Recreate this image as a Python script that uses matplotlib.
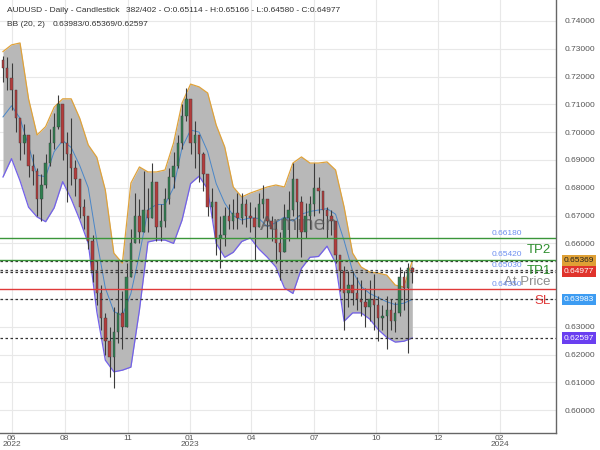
import numpy as np
import matplotlib
matplotlib.use('Agg')
import matplotlib.pyplot as plt

plt.rcParams['font.family'] = ['Liberation Sans', 'DejaVu Sans']

# candles, one every 4 trading days (bar index = position * 4)
first_open = 0.7260
closes = [
    0.7230, 0.7195, 0.7150, 0.7050, 0.6960, 0.6990, 0.6880, 0.6860, 0.6760, 0.6810,
    0.6890, 0.6960, 0.7020, 0.7100, 0.6960, 0.6920, 0.6870, 0.6830, 0.6730, 0.6700,
    0.6610, 0.6500, 0.6420, 0.6330, 0.6250, 0.6190, 0.6280, 0.6350, 0.6300, 0.6480,
    0.6600, 0.6700, 0.6640, 0.6720, 0.6690, 0.6820, 0.6660, 0.6680, 0.6760, 0.6840,
    0.6880, 0.6960, 0.7060, 0.7120, 0.6960, 0.6990, 0.6920, 0.6850, 0.6730, 0.6750,
    0.6620, 0.6630, 0.6700, 0.6680, 0.6710, 0.6690, 0.6740, 0.6700, 0.6690, 0.6660,
    0.6740, 0.6760, 0.6680, 0.6650, 0.6600, 0.6570, 0.6690, 0.6720, 0.6830, 0.6750,
    0.6640, 0.6700, 0.6740, 0.6800, 0.6790, 0.6720, 0.6700, 0.6680, 0.6560, 0.6500,
    0.6420, 0.6450, 0.6420, 0.6400, 0.6390, 0.6370, 0.6400, 0.6380, 0.6330, 0.6340,
    0.6360, 0.6320, 0.6350, 0.6480, 0.6440, 0.6510, 0.64977,
]
highs = [
    0.7275, 0.7270, 0.7250, 0.7130, 0.7040, 0.7030, 0.6960, 0.6920, 0.6870, 0.6850,
    0.6920, 0.7010, 0.7070, 0.7135, 0.7080, 0.7000, 0.7050, 0.6900, 0.6820, 0.6760,
    0.6700, 0.6630, 0.6540, 0.6450, 0.6350, 0.6300, 0.6370, 0.6540, 0.6430, 0.6530,
    0.6650, 0.6780, 0.6760, 0.6860, 0.6800, 0.6890, 0.6760, 0.6740, 0.6800, 0.6870,
    0.6930, 0.6990, 0.7100, 0.7160, 0.7100, 0.7040, 0.6990, 0.6930, 0.6830, 0.6800,
    0.6740, 0.6700, 0.6730, 0.6740, 0.6760, 0.6780, 0.6780, 0.6760, 0.6750, 0.6730,
    0.6780, 0.6810, 0.6750, 0.6700, 0.6680, 0.6640, 0.6740, 0.6790, 0.6890, 0.6820,
    0.6770, 0.6745, 0.6770, 0.6890, 0.6840, 0.6790, 0.6730, 0.6720, 0.6650, 0.6560,
    0.6520, 0.6500, 0.6500, 0.6480, 0.6470, 0.6440, 0.6470, 0.6490, 0.6410, 0.6380,
    0.6410, 0.6400, 0.6390, 0.6515, 0.6500, 0.6530, 0.65166,
]
lows = [
    0.7180, 0.7150, 0.7080, 0.7000, 0.6900, 0.6920, 0.6840, 0.6810, 0.6700, 0.6680,
    0.6800, 0.6880, 0.6940, 0.7010, 0.6900, 0.6750, 0.6810, 0.6770, 0.6690, 0.6650,
    0.6580, 0.6460, 0.6380, 0.6290, 0.6200, 0.6120, 0.6080, 0.6240, 0.6220, 0.6400,
    0.6500, 0.6610, 0.6600, 0.6640, 0.6640, 0.6700, 0.6610, 0.6610, 0.6660, 0.6740,
    0.6800, 0.6870, 0.6940, 0.7040, 0.6920, 0.6870, 0.6820, 0.6790, 0.6700, 0.6690,
    0.6560, 0.6510, 0.6590, 0.6650, 0.6650, 0.6650, 0.6670, 0.6660, 0.6640, 0.6540,
    0.6660, 0.6690, 0.6620, 0.6610, 0.6530, 0.6470, 0.6590, 0.6610, 0.6700, 0.6620,
    0.6550, 0.6620, 0.6650, 0.6700, 0.6710, 0.6650, 0.6620, 0.6630, 0.6530, 0.6430,
    0.6290, 0.6370, 0.6380, 0.6360, 0.6340, 0.6300, 0.6320, 0.6290, 0.6250, 0.6290,
    0.6220, 0.6290, 0.6280, 0.6340, 0.6360, 0.6206, 0.6458,
]

# Bollinger bands (20, 2), sampled every 8 bars
bb_upper = [
    0.7290, 0.7314, 0.7321, 0.7120, 0.6990, 0.7020, 0.7090, 0.7120, 0.7120, 0.7050,
    0.6954, 0.6910, 0.6792, 0.6565, 0.6529, 0.6817, 0.6875, 0.6857, 0.6857, 0.6864,
    0.6961, 0.7105, 0.7173, 0.7163, 0.7141, 0.7026, 0.6947, 0.6803, 0.6767, 0.6781,
    0.6792, 0.6803, 0.6810, 0.6803, 0.6889, 0.6911, 0.6889, 0.6889, 0.6893, 0.6864,
    0.6731, 0.6565, 0.6515, 0.6497, 0.6493, 0.6486, 0.6450, 0.6443, 0.65369,
]
bb_mid = [
    0.7055, 0.7095, 0.7050, 0.6950, 0.6845, 0.6840, 0.6930, 0.6970, 0.6945, 0.6880,
    0.6800, 0.6610, 0.6440, 0.6355, 0.6340, 0.6420, 0.6560, 0.6720, 0.6740, 0.6740,
    0.6800, 0.6945, 0.7008, 0.7000, 0.6930, 0.6815, 0.6745, 0.6700, 0.6684, 0.6692,
    0.6690, 0.6660, 0.6675, 0.6695, 0.6680, 0.6705, 0.6715, 0.6720, 0.6725, 0.6705,
    0.6610, 0.6500, 0.6445, 0.6420, 0.6405, 0.6390, 0.6380, 0.6385, 0.63983,
]
bb_lower = [
    0.6839, 0.6905, 0.6825, 0.6730, 0.6695, 0.6678, 0.6728, 0.6822, 0.6760, 0.6685,
    0.6600, 0.6355, 0.6180, 0.6138, 0.6144, 0.6155, 0.6360, 0.6605, 0.6612, 0.6612,
    0.6600, 0.6684, 0.6815, 0.6842, 0.6795, 0.6600, 0.6550, 0.6568, 0.6607, 0.6620,
    0.6580, 0.6550, 0.6515, 0.6440, 0.6420, 0.6510, 0.6550, 0.6553, 0.6590, 0.6530,
    0.6320, 0.6350, 0.6350, 0.6328, 0.6290, 0.6262, 0.6245, 0.6248, 0.62597,
]

# trade levels
level_names = ['TP2', 'TP1', 'At Price', 'SL']
level_values = [0.66180, 0.65420, 0.65030, 0.64350]
level_colors = ['#3a963a', '#3a963a', '#444444', '#e03a3a']
name_colors = ['#2f8f2f', '#2f8f2f', '#8c8c8c', '#e03a3a']

# right-axis price boxes
box_values = [0.65369, 0.64977, 0.63983, 0.62597]
box_colors = ['#dfa035', '#e0332c', '#3d9cf2', '#6a3ff0']
box_text = ['#222222', 'white', 'white', 'white']

tick_bars = [8, 58, 117, 175, 233, 292, 350, 408, 466]
tick_labels = ['06\n2022', '08', '11', '01\n2023', '04', '07', '10', '12', '02\n2024']
price_ticks = [0.60, 0.61, 0.62, 0.63, 0.64, 0.65, 0.66, 0.67, 0.68,
               0.69, 0.70, 0.71, 0.72, 0.73, 0.74]
hidden_ticks = [0.64, 0.65]   # sit under the price boxes

fig = plt.figure(figsize=(6, 4.5), dpi=100)
ax = fig.add_axes([0, 17 / 450, 556 / 600, 433 / 450])

bars = np.arange(len(closes)) * 4
bb_bars = np.arange(len(bb_upper)) * 8
opens = [first_open] + closes[:-1]

# bands
ax.fill_between(bb_bars, bb_lower, bb_upper, color='#b8b8b8', lw=0, zorder=1)
ax.plot(bb_bars, bb_upper, color='#dfa23a', lw=0.9, zorder=2)
ax.plot(bb_bars, bb_lower, color='#7260ea', lw=0.9, zorder=2)
ax.plot(bb_bars, bb_mid, color='#4a86c8', lw=0.7, zorder=3)

# candles
o = np.array(opens); c = np.array(closes)
hi = np.maximum(np.array(highs), np.maximum(o, c))
lo = np.minimum(np.array(lows), np.minimum(o, c))
up = c >= o
ax.vlines(bars, lo, hi, color='#3b3b3b', lw=0.8, zorder=4)
body_lo = np.minimum(o, c)
body_h = np.maximum(np.abs(c - o), 0.0004)
ax.bar(bars[up], body_h[up], bottom=body_lo[up], width=2.3, color='#2f7f50',
       edgecolor='#3b3b3b', lw=0.3, zorder=5)
ax.bar(bars[~up], body_h[~up], bottom=body_lo[~up], width=2.3, color='#b23c3c',
       edgecolor='#3b3b3b', lw=0.3, zorder=5)

# dotted indicator / price lines
for v in box_values:
    ax.axhline(v, color='#333333', lw=0.9, ls=(0, (2, 2)), zorder=6)

# trade levels
for name, v, lc, nc in zip(level_names, level_values, level_colors, name_colors):
    if name == 'At Price':
        ax.axhline(v, color=lc, lw=0.9, ls=(0, (2, 2)), zorder=6)
    else:
        ax.axhline(v, color=lc, lw=1.0, zorder=6)
    ax.annotate(f'{v:.5f}', xy=(522 / 556, v), xycoords=('axes fraction', 'data'),
                xytext=(0, 3.6), textcoords='offset points', ha='right', va='center',
                fontsize=6, color='#6d8ff0', zorder=7)
    ax.annotate(name, xy=(551 / 556, v), xycoords=('axes fraction', 'data'),
                xytext=(0, -8.6), textcoords='offset points', ha='right', va='center',
                fontsize=9.5, color=nc, zorder=7)

# watermark
ax.text(278, 0.6668, 'Arminen', fontsize=15, color='#555555', alpha=0.75,
        ha='center', va='center', zorder=8)

for v, bc, tc in zip(box_values, box_colors, box_text):
    ax.annotate(f'{v:.5f}', xy=(1, v), xycoords=('axes fraction', 'data'),
                xytext=(5.6, 0), textcoords='offset points', ha='left', va='center',
                fontsize=6, color=tc, annotation_clip=False, zorder=9,
                bbox=dict(boxstyle='square,pad=0.25', fc=bc, ec='none'))

ax.set_xlim(-2.8, 518.8)
ax.set_ylim(0.5918, 0.74755)
ax.yaxis.tick_right()
ax.set_yticks(price_ticks)
ax.set_yticklabels(['' if v in hidden_ticks else f'{v:.5f}' for v in price_ticks])
ax.set_xticks(tick_bars)
ax.set_xticklabels(tick_labels, linespacing=0.85)
ax.tick_params(axis='y', length=0, pad=6.5, labelsize=6, labelcolor='#555555')
ax.tick_params(axis='x', length=0, pad=1.5, labelsize=6, labelcolor='#555555')
ax.grid(color='#e8e8e8', lw=0.8)
ax.set_axisbelow(True)
for s in ['left', 'top']:
    ax.spines[s].set_visible(False)
for s in ['right', 'bottom']:
    ax.spines[s].set_color('#666666')
    ax.spines[s].set_linewidth(1.0)

# header
fig.text(7 / 600, 1 - 10 / 450, 'AUDUSD - Daily - Candlestick', fontsize=6, color='#333333', va='center')
fig.text(126 / 600, 1 - 10 / 450, '382/402 - O:0.65114 - H:0.65166 - L:0.64580 - C:0.64977',
         fontsize=6, color='#333333', va='center')
fig.text(7 / 600, 1 - 25 / 450, 'BB (20, 2)', fontsize=6, color='#333333', va='center')
fig.text(53 / 600, 1 - 25 / 450, '0.63983/0.65369/0.62597', fontsize=6, color='#333333', va='center')

fig.savefig('out.png', dpi=100)
